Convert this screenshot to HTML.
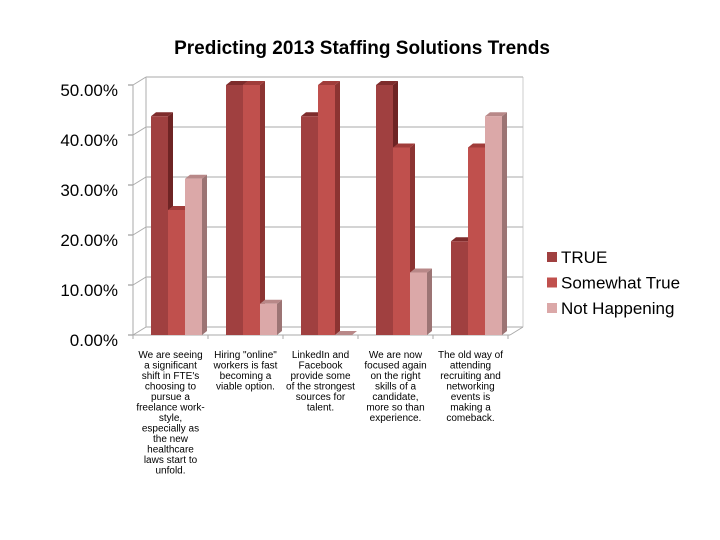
<!DOCTYPE html>
<html><head><meta charset="utf-8"><style>
body{margin:0;background:#fff;}
svg{display:block;font-family:"Liberation Sans",Arial,sans-serif;}
</style></head><body>
<svg id="chart" width="720" height="540" viewBox="0 0 720 540" xmlns="http://www.w3.org/2000/svg">
<rect width="720" height="540" fill="#fff"/>
<text x="362" y="54" text-anchor="middle" font-size="19" font-weight="bold" fill="#000">Predicting 2013 Staffing Solutions Trends</text>
<g id="axes"></g><g id="bars"></g><g id="labels"></g><g id="legend"></g>
</svg>
<script>
const categories=[
["We are seeing","a significant","shift in FTE's","choosing to","pursue a","freelance work-","style,","especially as","the new","healthcare","laws start to","unfold."],
["Hiring \"online\"","workers is fast","becoming a","viable option."],
["LinkedIn and","Facebook","provide some","of the strongest","sources for","talent."],
["We are now","focused again","on the right","skills of a","candidate,","more so than","experience."],
["The old way of","attending","recruiting and","networking","events is","making a","comeback."]];
const seriesNames=["TRUE","Somewhat True","Not Happening"];
const trueVals=[43.75,50,43.75,50,18.75];
const somewhatVals=[25,50,50,37.5,37.5];
const notVals=[31.25,6.25,0,12.5,43.75];
const ticks=[0,10,20,30,40,50];
const tickLabels=["0.00%","10.00%","20.00%","30.00%","40.00%","50.00%"];

const NS="http://www.w3.org/2000/svg";
function mk(tag,attrs,parent){const e=document.createElementNS(NS,tag);for(const k in attrs)e.setAttribute(k,attrs[k]);parent.appendChild(e);return e;}
const X0=133,Y0=335,DX=13,DY=-8,PX=5,CW=75,BW=17,X1=510;
const y=v=>Y0-v*PX;
const cx=i=>X0+CW*i+CW/2;
const axes=document.getElementById('axes');
let e=mk('line',{x1:X0+DX,y1:y(50)+DY,x2:X0+DX,y2:Y0+DY,stroke:'#bbb','stroke-width':1.2},axes);

e=mk('line',{x1:X1+DX,y1:y(50)+DY,x2:X1+DX,y2:Y0+DY,stroke:'#ccc','stroke-width':1},axes);

ticks.forEach((t,i)=>{
 const g=mk('line',{x1:X0+DX,y1:y(t)+DY,x2:X1+DX,y2:y(t)+DY,stroke:'#bbb','stroke-width':1.2},axes);
 
 const d=mk('line',{x1:X0,y1:y(t),x2:X0+DX,y2:y(t)+DY,stroke:'#aaa','stroke-width':1},axes);
 
 const tk=mk('line',{x1:X0-5,y1:y(t),x2:X0,y2:y(t),stroke:'#888','stroke-width':1},axes);
 
 const tx=mk('text',{x:118,y:y(t)+11,'text-anchor':'end','font-size':17,fill:'#000'},axes);
 tx.textContent=tickLabels[i];
 
});
e=mk('line',{x1:X0,y1:y(50),x2:X0,y2:Y0,stroke:'#aaa','stroke-width':1},axes);

e=mk('line',{x1:X0,y1:Y0,x2:X1,y2:Y0,stroke:'#aaa','stroke-width':1},axes);

e=mk('line',{x1:X1,y1:Y0,x2:X1+DX,y2:Y0+DY,stroke:'#aaa','stroke-width':1},axes);

for(let i=0;i<=categories.length;i++){
 const t=mk('line',{x1:X0+CW*i,y1:Y0,x2:X0+CW*i,y2:Y0+4,stroke:'#aaa'},axes);
 
}
const cols=[{f:'#a04040',s:'#6e2424',t:'#7e2c2c'},{f:'#c0504d',s:'#8c3432',t:'#a03c3a'},{f:'#dba8a8',s:'#9c7474',t:'#b88888'}];
const series=[trueVals,somewhatVals,notVals];
const bars=document.getElementById('bars');
const bd=5,bdy=-4;
categories.forEach((c,i)=>{
 series.forEach((vals,s)=>{
  const v=vals[i];const x=X0+18+CW*i+BW*s;const top=y(v);const col=cols[s];
  const g=mk('g',{},bars);
  
  
  mk('polygon',{points:`${x+BW},${top} ${x+BW+bd},${top+bdy} ${x+BW+bd},${Y0+bdy} ${x+BW},${Y0}`,fill:col.s},g);
  mk('polygon',{points:`${x},${top} ${x+bd},${top+bdy} ${x+BW+bd},${top+bdy} ${x+BW},${top}`,fill:col.t},g);
  if(v>0)mk('rect',{x:x,y:top,width:BW,height:Y0-top,fill:col.f},g);
 });
 const tx=mk('text',{x:cx(i),y:358,'text-anchor':'middle','font-size':10,fill:'#000'},document.getElementById('labels'));
 
 
 c.forEach((ln,j)=>{const ts=mk('tspan',{x:cx(i),dy:j?10.5:0},tx);ts.textContent=ln;});
});
const lg=document.getElementById('legend');
seriesNames.forEach((n,s)=>{
 const g=mk('g',{},lg);
 
 
 const yy=257+25.5*s;
 mk('rect',{x:547,y:yy-5,width:10,height:10,fill:cols[s].f},g);
 const t=mk('text',{x:561,y:yy+6,'font-size':17,fill:'#000'},g);t.textContent=n;
});
</script>
</body></html>
